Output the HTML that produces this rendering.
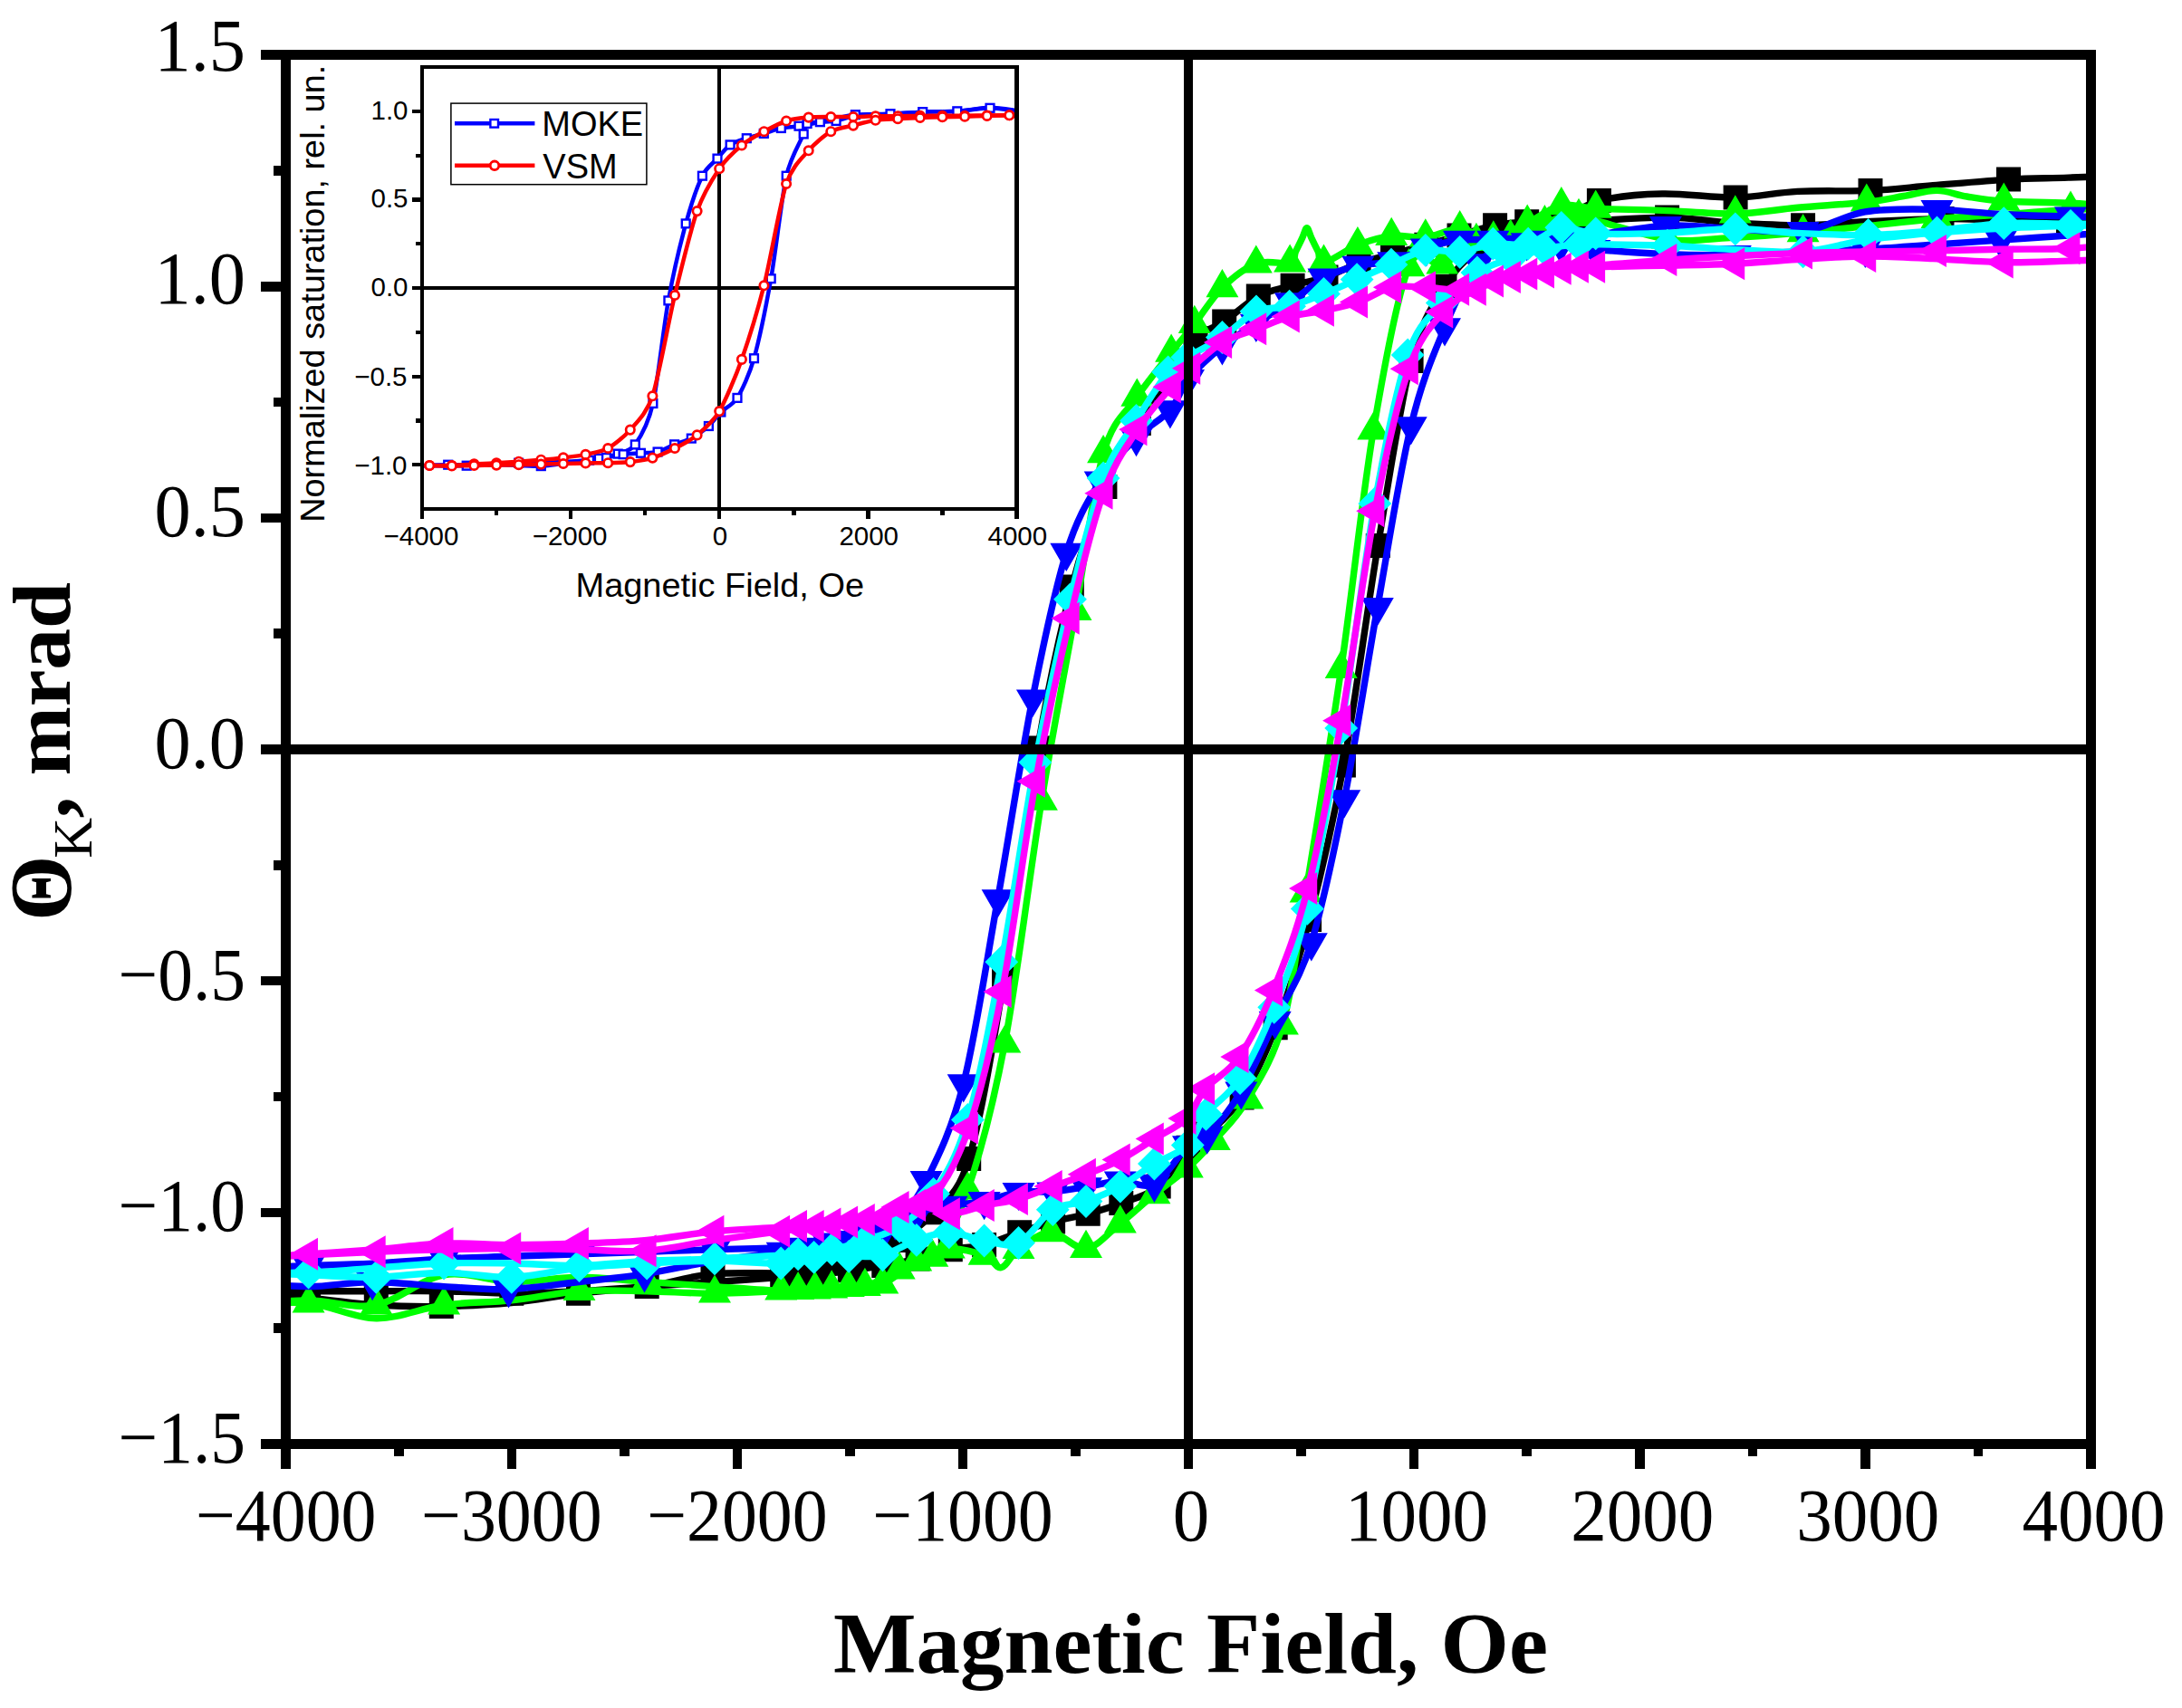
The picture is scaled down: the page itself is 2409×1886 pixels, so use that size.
<!DOCTYPE html>
<html lang="en"><head><meta charset="utf-8"><title>Kerr rotation hysteresis loops</title>
<style>html,body{margin:0;padding:0;background:#fff}svg{display:block}.ser{font-family:"Liberation Serif",serif}.san{font-family:"Liberation Sans",sans-serif}</style>
</head><body>
<svg width="2409" height="1886" viewBox="0 0 2409 1886" shape-rendering="crispEdges">
<rect x="0" y="0" width="2409" height="1886" fill="#fff"/>
<defs><clipPath id="cm"><rect x="315.7" y="60.6" width="1992.7" height="1533.8"/></clipPath>
</defs>
<g clip-path="url(#cm)" shape-rendering="geometricPrecision">
<g fill="#000000" stroke="#000000">
<path d="M2358.2,193.5C2345.8,194.0 2306.9,195.3 2283.5,196.1C2260.0,196.9 2242.4,196.7 2217.5,198.1C2192.6,199.6 2159.4,202.7 2134.0,204.8C2108.6,206.8 2090.0,209.3 2065.0,210.4C2040.1,211.5 2009.4,210.1 1984.6,211.4C1959.8,212.7 1941.0,217.6 1916.1,218.1C1891.2,218.5 1860.3,213.4 1835.1,214.0C1810.0,214.6 1784.1,217.0 1765.4,221.6C1746.7,226.3 1736.3,238.3 1723.0,242.1C1709.8,245.9 1697.8,243.5 1685.7,244.7C1673.6,245.8 1663.0,246.2 1650.6,248.7C1638.1,251.3 1623.6,256.4 1611.0,260.0C1598.3,263.6 1587.1,266.8 1574.8,270.2C1562.6,273.6 1549.9,277.0 1537.5,280.4C1525.0,283.9 1512.4,286.4 1500.1,290.7C1487.9,294.9 1476.2,301.9 1464.0,306.0C1451.8,310.1 1439.6,311.7 1427.1,315.2C1414.7,318.7 1401.8,320.3 1389.3,327.0C1376.7,333.6 1363.2,347.3 1351.7,355.1C1340.1,362.8 1329.6,362.9 1320.0,373.5C1310.4,384.1 1304.6,402.8 1294.1,418.5C1283.7,434.2 1269.6,447.7 1257.3,467.6C1244.9,487.4 1232.2,507.5 1219.9,537.6C1207.6,567.7 1195.6,600.0 1183.3,648.0C1170.9,696.1 1158.1,753.8 1145.7,826.0C1133.2,898.1 1121.2,1005.5 1108.5,1081.1C1095.9,1156.7 1082.7,1236.5 1069.7,1279.5C1056.7,1322.4 1043.3,1323.8 1030.6,1338.8C1017.8,1353.8 1005.7,1361.8 993.2,1369.4C980.8,1377.1 968.3,1380.5 955.9,1384.8C943.4,1389.0 930.9,1391.6 918.5,1395.0C906.0,1398.4 903.0,1403.3 881.1,1405.2C859.2,1407.2 814.8,1404.2 787.0,1406.8C759.2,1409.3 739.0,1417.0 714.2,1420.6C689.5,1424.1 663.4,1425.3 638.5,1428.2C613.6,1431.2 590.0,1436.1 564.8,1438.5C539.6,1440.8 512.2,1442.1 487.3,1442.6C462.4,1443.0 439.8,1442.6 415.3,1441.0C390.9,1439.5 365.5,1435.1 340.6,1433.4C315.7,1431.6 278.3,1431.2 265.9,1430.8" fill="none" stroke-width="7.4" stroke-linejoin="round"/>
<path d="M265.9,1425.7C278.3,1425.7 315.7,1425.7 340.6,1425.7C365.5,1425.7 390.4,1425.7 415.3,1425.7C440.2,1425.7 465.2,1425.3 490.1,1425.7C515.0,1426.1 539.9,1428.2 564.8,1428.2C589.7,1428.2 614.6,1427.0 639.5,1425.7C664.4,1424.4 689.3,1422.3 714.2,1420.6C739.1,1418.9 764.1,1417.2 789.0,1415.5C813.9,1413.8 845.0,1411.6 863.7,1410.3C882.4,1409.1 888.6,1409.1 901.1,1407.8C913.5,1406.5 926.0,1404.4 938.4,1402.7C950.9,1401.0 963.3,1399.7 975.8,1397.6C988.2,1395.4 1000.9,1392.9 1013.1,1389.9C1025.4,1386.9 1037.0,1382.2 1049.3,1379.7C1061.5,1377.1 1073.9,1377.7 1086.6,1374.6C1099.4,1371.4 1113.1,1365.0 1125.7,1360.8C1138.4,1356.5 1150.0,1352.4 1162.6,1349.0C1175.2,1345.6 1188.7,1343.7 1201.2,1340.3C1213.7,1336.9 1224.8,1333.6 1237.8,1328.5C1250.8,1323.5 1266.8,1320.4 1279.2,1310.1C1291.5,1299.9 1303.0,1276.9 1312.0,1267.2C1321.1,1257.5 1323.6,1261.1 1333.5,1251.9C1343.3,1242.6 1358.6,1231.5 1371.1,1212.0C1383.5,1192.5 1395.8,1167.5 1408.2,1134.8C1420.6,1102.1 1433.0,1064.0 1445.6,1015.6C1458.1,967.3 1470.8,913.7 1483.4,844.9C1496.0,776.0 1508.8,676.9 1521.3,602.5C1533.7,528.2 1545.9,446.3 1558.1,398.5C1570.4,350.8 1582.7,336.8 1595.0,316.2C1607.3,295.7 1619.7,284.7 1632.1,275.3C1644.5,266.0 1657.0,263.8 1669.5,260.0C1681.9,256.2 1694.4,254.7 1706.9,252.3C1719.3,249.9 1721.9,247.7 1744.2,245.7C1766.5,243.6 1813.0,240.1 1840.6,240.1C1868.2,240.1 1884.9,244.2 1909.9,245.7C1934.9,247.1 1965.7,248.9 1990.6,248.7C2015.5,248.6 2033.7,245.8 2059.3,244.7C2084.9,243.5 2119.1,241.8 2144.0,241.6C2168.9,241.3 2185.5,242.7 2208.8,243.1C2232.0,243.5 2258.6,243.9 2283.5,244.1C2308.4,244.4 2345.8,244.6 2358.2,244.7" fill="none" stroke-width="7.4" stroke-linejoin="round"/>
<path d="M2204.0,184.6h27.0v27.0h-27.0zM2051.5,196.9h27.0v27.0h-27.0zM1902.6,204.6h27.0v27.0h-27.0zM1751.9,208.1h27.0v27.0h-27.0zM1709.5,228.6h27.0v27.0h-27.0zM1672.2,231.2h27.0v27.0h-27.0zM1637.1,235.2h27.0v27.0h-27.0zM1597.5,246.5h27.0v27.0h-27.0zM1561.3,256.7h27.0v27.0h-27.0zM1524.0,266.9h27.0v27.0h-27.0zM1486.6,277.2h27.0v27.0h-27.0zM1450.5,292.5h27.0v27.0h-27.0zM1413.6,301.7h27.0v27.0h-27.0zM1375.8,313.5h27.0v27.0h-27.0zM1338.2,341.6h27.0v27.0h-27.0zM1306.5,360.0h27.0v27.0h-27.0zM1280.6,405.0h27.0v27.0h-27.0zM1243.8,454.1h27.0v27.0h-27.0zM1206.4,524.1h27.0v27.0h-27.0zM1169.8,634.5h27.0v27.0h-27.0zM1132.2,812.5h27.0v27.0h-27.0zM1095.0,1067.6h27.0v27.0h-27.0zM1056.2,1266.0h27.0v27.0h-27.0zM1017.1,1325.3h27.0v27.0h-27.0zM979.7,1355.9h27.0v27.0h-27.0zM942.4,1371.3h27.0v27.0h-27.0zM905.0,1381.5h27.0v27.0h-27.0zM867.6,1391.7h27.0v27.0h-27.0zM773.5,1393.3h27.0v27.0h-27.0zM625.0,1414.7h27.0v27.0h-27.0zM473.8,1429.1h27.0v27.0h-27.0zM327.1,1419.9h27.0v27.0h-27.0zM401.8,1412.2h27.0v27.0h-27.0zM551.3,1414.7h27.0v27.0h-27.0zM700.7,1407.1h27.0v27.0h-27.0zM850.2,1396.8h27.0v27.0h-27.0zM887.6,1394.3h27.0v27.0h-27.0zM924.9,1389.2h27.0v27.0h-27.0zM962.3,1384.1h27.0v27.0h-27.0zM999.6,1376.4h27.0v27.0h-27.0zM1035.8,1366.2h27.0v27.0h-27.0zM1073.1,1361.1h27.0v27.0h-27.0zM1112.2,1347.3h27.0v27.0h-27.0zM1149.1,1335.5h27.0v27.0h-27.0zM1187.7,1326.8h27.0v27.0h-27.0zM1224.3,1315.0h27.0v27.0h-27.0zM1265.7,1296.6h27.0v27.0h-27.0zM1298.5,1253.7h27.0v27.0h-27.0zM1320.0,1238.4h27.0v27.0h-27.0zM1357.6,1198.5h27.0v27.0h-27.0zM1394.7,1121.3h27.0v27.0h-27.0zM1432.1,1002.1h27.0v27.0h-27.0zM1469.9,831.4h27.0v27.0h-27.0zM1507.8,589.0h27.0v27.0h-27.0zM1544.6,385.0h27.0v27.0h-27.0zM1581.5,302.7h27.0v27.0h-27.0zM1618.6,261.8h27.0v27.0h-27.0zM1656.0,246.5h27.0v27.0h-27.0zM1693.4,238.8h27.0v27.0h-27.0zM1730.7,232.2h27.0v27.0h-27.0zM1827.1,226.6h27.0v27.0h-27.0zM1977.1,235.2h27.0v27.0h-27.0zM2130.5,228.1h27.0v27.0h-27.0zM2270.0,230.6h27.0v27.0h-27.0z" stroke="none"/>
</g>
<g fill="#00ff00" stroke="#00ff00">
<path d="M2358.2,229.3C2345.8,228.5 2307.8,225.4 2283.5,224.2C2259.2,223.0 2230.9,223.4 2212.3,222.2C2193.6,221.0 2183.7,219.0 2171.4,217.0C2159.1,215.1 2150.1,210.5 2138.5,210.4C2126.9,210.3 2114.6,214.4 2101.7,216.5C2088.7,218.7 2080.3,221.1 2060.8,223.2C2041.3,225.3 2008.7,227.2 1984.6,229.3C1960.4,231.4 1940.7,235.5 1915.8,236.0C1890.9,236.5 1860.8,233.3 1835.1,232.4C1809.4,231.4 1780.2,231.3 1761.7,230.3C1743.1,229.4 1736.4,224.1 1723.8,226.8C1711.2,229.4 1698.7,240.0 1686.2,246.2C1673.7,252.4 1661.2,263.0 1648.8,264.1C1636.4,265.2 1624.2,253.2 1611.7,252.8C1599.2,252.5 1586.4,260.8 1573.8,262.0C1561.3,263.3 1548.7,259.1 1536.2,260.5C1523.7,262.0 1511.3,265.8 1498.9,270.7C1486.4,275.7 1468.8,289.0 1461.5,290.2C1454.2,291.4 1457.6,282.5 1455.3,277.9C1453.0,273.3 1449.9,266.9 1447.8,262.6C1445.7,258.2 1444.5,251.8 1442.8,251.8C1441.2,251.8 1439.9,258.2 1437.8,262.6C1435.8,266.9 1432.6,273.3 1430.4,277.9C1428.1,282.5 1431.4,287.9 1424.1,290.2C1416.9,292.4 1399.2,286.6 1386.8,291.2C1374.3,295.8 1360.7,306.7 1349.4,317.8C1338.1,328.8 1328.2,345.7 1318.8,357.6C1309.4,369.6 1303.7,375.9 1293.1,389.3C1282.5,402.8 1267.8,419.9 1255.3,438.4C1242.8,457.0 1229.4,461.4 1218.1,500.8C1206.9,540.2 1198.9,610.7 1187.5,674.6C1176.1,738.5 1162.9,804.7 1149.9,884.3C1136.9,963.8 1122.9,1080.5 1109.3,1152.2C1095.7,1223.8 1081.8,1274.9 1068.4,1314.2C1055.1,1353.6 1042.0,1373.7 1029.3,1388.4C1016.7,1403.0 1005.1,1396.8 992.7,1402.2C980.3,1407.5 967.3,1417.1 954.9,1420.6C942.4,1424.1 930.5,1422.4 918.2,1423.1C906.0,1423.8 902.7,1423.8 881.1,1424.7C859.6,1425.5 816.8,1428.1 789.0,1428.2C761.2,1428.4 739.1,1426.1 714.2,1425.7C689.3,1425.3 664.4,1424.0 639.5,1425.7C614.6,1427.4 589.7,1433.4 564.8,1435.9C539.9,1438.5 515.0,1437.7 490.1,1441.0C465.2,1444.3 440.2,1456.2 415.3,1455.8C390.4,1455.5 365.5,1441.4 340.6,1439.0C315.7,1436.5 278.3,1440.7 265.9,1441.0" fill="none" stroke-width="7.4" stroke-linejoin="round"/>
<path d="M265.9,1441.0C278.3,1440.2 315.7,1435.9 340.6,1435.9C365.5,1435.9 390.4,1445.7 415.3,1441.0C440.2,1436.3 465.2,1412.0 490.1,1407.8C515.0,1403.5 539.9,1415.0 564.8,1415.5C589.7,1415.9 614.6,1410.3 639.5,1410.3C664.4,1410.3 689.3,1413.8 714.2,1415.5C739.1,1417.2 764.3,1419.0 789.0,1420.6C813.6,1422.2 843.7,1424.6 862.2,1425.2C880.7,1425.8 887.4,1424.7 899.8,1424.1C912.2,1423.6 924.3,1422.6 936.7,1421.6C949.1,1420.6 961.9,1422.8 974.3,1418.0C986.7,1413.2 998.9,1399.4 1011.2,1393.0C1023.4,1386.5 1035.2,1380.3 1047.8,1379.2C1060.3,1378.0 1077.0,1382.9 1086.6,1386.3C1096.2,1389.7 1099.0,1400.7 1105.3,1399.6C1111.6,1398.5 1115.4,1386.1 1124.5,1379.7C1133.6,1373.2 1147.7,1360.9 1160.1,1360.8C1172.5,1360.6 1186.2,1380.3 1199.0,1378.6C1211.8,1377.0 1224.2,1361.0 1236.8,1351.0C1249.4,1341.1 1262.1,1329.0 1274.4,1318.8C1286.8,1308.7 1299.8,1300.1 1310.8,1290.2C1321.8,1280.3 1329.6,1272.2 1340.7,1259.5C1351.8,1246.8 1364.8,1235.2 1377.3,1214.0C1389.8,1192.8 1405.2,1170.2 1415.9,1132.2C1426.6,1094.2 1430.8,1051.6 1441.6,986.0C1452.4,920.4 1468.2,823.7 1480.7,738.5C1493.1,653.4 1503.8,549.2 1516.3,475.2C1528.8,401.3 1542.7,325.3 1555.4,294.8C1568.1,264.3 1579.9,296.9 1592.3,292.2C1604.7,287.5 1617.3,271.6 1629.9,266.6C1642.5,261.7 1655.2,265.9 1667.7,262.6C1680.3,259.2 1692.8,250.5 1705.4,246.7C1717.9,242.9 1720.4,236.6 1743.0,239.5C1765.6,242.4 1813.0,260.2 1840.9,264.1C1868.7,267.9 1884.9,263.7 1909.9,262.6C1934.8,261.4 1965.7,259.1 1990.6,256.9C2015.5,254.8 2034.7,252.3 2059.3,249.8C2084.0,247.2 2113.6,243.7 2138.5,241.6C2163.4,239.5 2184.2,238.7 2208.8,237.0C2233.3,235.3 2261.1,232.6 2286.0,231.4C2310.9,230.1 2346.2,229.7 2358.2,229.3" fill="none" stroke-width="7.4" stroke-linejoin="round"/>
<path d="M2212.3,201.4L2230.3,232.6L2194.3,232.6zM2060.8,202.4L2078.8,233.6L2042.8,233.6zM1915.8,215.2L1933.8,246.4L1897.8,246.4zM1761.7,209.5L1779.7,240.7L1743.7,240.7zM1723.8,206.0L1741.8,237.2L1705.8,237.2zM1686.2,225.4L1704.2,256.6L1668.2,256.6zM1648.8,243.3L1666.8,274.5L1630.8,274.5zM1611.7,232.0L1629.7,263.2L1593.7,263.2zM1573.8,241.2L1591.8,272.4L1555.8,272.4zM1536.2,239.7L1554.2,270.9L1518.2,270.9zM1498.9,249.9L1516.9,281.1L1480.9,281.1zM1461.5,269.4L1479.5,300.6L1443.5,300.6zM1424.1,269.4L1442.1,300.6L1406.1,300.6zM1386.8,270.4L1404.8,301.6L1368.8,301.6zM1349.4,297.0L1367.4,328.2L1331.4,328.2zM1318.8,336.8L1336.8,368.0L1300.8,368.0zM1293.1,368.5L1311.1,399.7L1275.1,399.7zM1255.3,417.6L1273.3,448.8L1237.3,448.8zM1218.1,480.0L1236.1,511.2L1200.1,511.2zM1187.5,653.8L1205.5,685.0L1169.5,685.0zM1149.9,863.5L1167.9,894.7L1131.9,894.7zM1109.3,1131.4L1127.3,1162.6L1091.3,1162.6zM1068.4,1293.4L1086.4,1324.6L1050.4,1324.6zM1029.3,1367.6L1047.3,1398.8L1011.3,1398.8zM992.7,1381.4L1010.7,1412.6L974.7,1412.6zM954.9,1399.8L972.9,1431.0L936.9,1431.0zM918.2,1402.3L936.2,1433.5L900.2,1433.5zM881.1,1403.9L899.1,1435.1L863.1,1435.1zM789.0,1407.4L807.0,1438.6L771.0,1438.6zM639.5,1404.9L657.5,1436.1L621.5,1436.1zM490.1,1420.2L508.1,1451.4L472.1,1451.4zM340.6,1418.2L358.6,1449.4L322.6,1449.4zM415.3,1420.2L433.3,1451.4L397.3,1451.4zM564.8,1394.7L582.8,1425.9L546.8,1425.9zM714.2,1394.7L732.2,1425.9L696.2,1425.9zM862.2,1404.4L880.2,1435.6L844.2,1435.6zM899.8,1403.3L917.8,1434.5L881.8,1434.5zM936.7,1400.8L954.7,1432.0L918.7,1432.0zM974.3,1397.2L992.3,1428.4L956.3,1428.4zM1011.2,1372.2L1029.2,1403.4L993.2,1403.4zM1047.8,1358.4L1065.8,1389.6L1029.8,1389.6zM1086.6,1365.5L1104.6,1396.7L1068.6,1396.7zM1124.5,1358.9L1142.5,1390.1L1106.5,1390.1zM1160.1,1340.0L1178.1,1371.2L1142.1,1371.2zM1199.0,1357.8L1217.0,1389.0L1181.0,1389.0zM1236.8,1330.2L1254.8,1361.4L1218.8,1361.4zM1274.4,1298.0L1292.4,1329.2L1256.4,1329.2zM1310.8,1269.4L1328.8,1300.6L1292.8,1300.6zM1340.7,1238.7L1358.7,1269.9L1322.7,1269.9zM1377.3,1193.2L1395.3,1224.4L1359.3,1224.4zM1415.9,1111.4L1433.9,1142.6L1397.9,1142.6zM1441.6,965.2L1459.6,996.4L1423.6,996.4zM1480.7,717.7L1498.7,748.9L1462.7,748.9zM1516.3,454.4L1534.3,485.6L1498.3,485.6zM1555.4,274.0L1573.4,305.2L1537.4,305.2zM1592.3,271.4L1610.3,302.6L1574.3,302.6zM1629.9,245.8L1647.9,277.0L1611.9,277.0zM1667.7,241.8L1685.7,273.0L1649.7,273.0zM1705.4,225.9L1723.4,257.1L1687.4,257.1zM1743.0,218.7L1761.0,249.9L1725.0,249.9zM1840.9,243.3L1858.9,274.5L1822.9,274.5zM1990.6,236.1L2008.6,267.3L1972.6,267.3zM2138.5,220.8L2156.5,252.0L2120.5,252.0zM2286.0,210.6L2304.0,241.8L2268.0,241.8z" stroke="none"/>
</g>
<g fill="#0000ff" stroke="#0000ff">
<path d="M2358.2,254.9C2345.8,255.7 2308.4,258.3 2283.5,260.0C2258.6,261.7 2233.7,263.4 2208.8,265.1C2183.9,266.8 2158.9,268.5 2134.0,270.2C2109.1,271.9 2084.2,274.1 2059.3,275.3C2034.4,276.6 2008.5,276.9 1984.6,277.9C1960.7,278.9 1940.7,281.0 1915.8,281.5C1890.9,281.9 1861.0,281.5 1835.1,280.4C1809.2,279.4 1779.1,277.0 1760.4,275.3C1741.7,273.6 1735.5,271.5 1723.0,270.2C1710.6,268.9 1698.1,268.5 1685.7,267.7C1673.2,266.8 1660.8,265.5 1648.3,265.1C1635.9,264.7 1623.2,263.7 1611.0,265.1C1598.7,266.6 1587.0,269.9 1574.8,273.8C1562.7,277.7 1550.8,285.4 1538.2,288.6C1525.6,291.9 1512.2,290.2 1499.4,293.2C1486.6,296.3 1473.9,300.3 1461.5,307.0C1449.1,313.8 1437.3,325.3 1424.9,333.6C1412.4,342.0 1399.4,349.0 1386.8,357.1C1374.2,365.3 1361.9,372.5 1349.4,382.7C1337.0,392.9 1321.6,406.8 1312.0,418.5C1302.5,430.2 1301.5,441.9 1291.9,452.7C1282.3,463.6 1267.4,470.4 1254.5,483.4C1241.6,496.5 1227.5,509.8 1214.7,531.0C1201.8,552.1 1189.7,570.1 1177.3,610.2C1164.8,650.3 1152.6,708.0 1139.9,771.8C1127.3,835.5 1114.3,921.8 1101.6,992.6C1088.9,1063.4 1076.9,1144.8 1063.7,1196.6C1050.5,1248.4 1035.2,1278.1 1022.6,1303.5C1010.0,1328.9 1000.2,1338.9 988.2,1349.0C976.3,1359.1 963.3,1360.5 950.9,1364.3C938.4,1368.2 926.0,1369.9 913.5,1372.0C901.1,1374.1 896.9,1375.8 876.1,1377.1C855.4,1378.4 816.0,1378.8 789.0,1379.7C762.0,1380.5 739.1,1381.4 714.2,1382.2C689.3,1383.1 664.4,1383.9 639.5,1384.8C614.6,1385.6 589.7,1386.5 564.8,1387.3C539.9,1388.2 515.0,1388.6 490.1,1389.9C465.2,1391.2 440.2,1393.7 415.3,1395.0C390.4,1396.3 365.5,1396.7 340.6,1397.6C315.7,1398.4 278.3,1399.7 265.9,1400.1" fill="none" stroke-width="7.4" stroke-linejoin="round"/>
<path d="M265.9,1415.5C278.3,1416.3 316.4,1420.6 340.6,1420.6C364.8,1420.6 386.2,1415.5 411.1,1415.5C436.0,1415.5 465.0,1419.2 490.1,1420.6C515.1,1421.9 536.6,1424.5 561.5,1423.6C586.5,1422.8 614.5,1418.3 639.5,1415.5C664.5,1412.6 686.6,1410.6 711.5,1406.8C736.4,1402.9 763.6,1396.5 789.0,1392.4C814.3,1388.4 845.0,1384.8 863.7,1382.2C882.4,1379.7 888.6,1379.2 901.1,1377.1C913.5,1375.0 926.0,1372.4 938.4,1369.4C950.9,1366.5 963.3,1364.3 975.8,1359.2C988.2,1354.1 1000.7,1343.5 1013.1,1338.8C1025.6,1334.1 1038.3,1333.1 1050.5,1331.1C1062.8,1329.1 1074.3,1329.0 1086.6,1326.5C1099.0,1324.0 1111.9,1318.1 1124.5,1316.3C1137.1,1314.5 1149.9,1316.7 1162.3,1315.8C1174.8,1314.8 1186.6,1312.6 1199.0,1310.6C1211.4,1308.7 1224.2,1304.6 1236.8,1304.0C1249.4,1303.4 1261.9,1313.6 1274.4,1307.1C1287.0,1300.5 1302.3,1273.5 1312.0,1264.6C1321.8,1255.8 1323.0,1263.9 1332.7,1253.9C1342.4,1243.9 1357.8,1225.9 1370.3,1204.8C1382.8,1183.7 1394.8,1154.5 1407.7,1127.1C1420.6,1099.7 1435.1,1081.4 1447.8,1040.7C1460.5,1000.0 1472.0,944.4 1484.2,882.7C1496.3,821.0 1508.5,739.2 1520.8,670.5C1533.0,601.9 1545.3,522.1 1557.7,470.6C1570.0,419.2 1582.6,391.7 1595.0,361.7C1607.4,331.7 1619.7,305.9 1632.1,290.7C1644.5,275.4 1657.0,274.5 1669.5,270.2C1681.9,266.0 1694.4,266.5 1706.9,265.1C1719.3,263.7 1722.2,264.7 1744.2,262.0C1766.2,259.4 1811.3,250.9 1838.9,249.3C1866.5,247.6 1884.6,251.3 1909.9,252.3C1935.1,253.3 1965.7,258.5 1990.6,255.4C2015.5,252.3 2034.7,237.9 2059.3,233.9C2084.0,229.9 2113.6,230.9 2138.5,231.4C2163.4,231.8 2184.2,235.2 2208.8,236.5C2233.3,237.8 2261.1,238.5 2286.0,239.0C2310.9,239.5 2346.2,239.5 2358.2,239.5" fill="none" stroke-width="7.4" stroke-linejoin="round"/>
<path d="M2208.8,285.9L2226.8,254.7L2190.8,254.7zM2059.3,296.1L2077.3,264.9L2041.3,264.9zM1915.8,302.3L1933.8,271.1L1897.8,271.1zM1760.4,296.1L1778.4,264.9L1742.4,264.9zM1723.0,291.0L1741.0,259.8L1705.0,259.8zM1685.7,288.5L1703.7,257.3L1667.7,257.3zM1648.3,285.9L1666.3,254.7L1630.3,254.7zM1611.0,285.9L1629.0,254.7L1593.0,254.7zM1574.8,294.6L1592.8,263.4L1556.8,263.4zM1538.2,309.4L1556.2,278.2L1520.2,278.2zM1499.4,314.0L1517.4,282.8L1481.4,282.8zM1461.5,327.8L1479.5,296.6L1443.5,296.6zM1424.9,354.4L1442.9,323.2L1406.9,323.2zM1386.8,377.9L1404.8,346.7L1368.8,346.7zM1349.4,403.5L1367.4,372.3L1331.4,372.3zM1312.0,439.3L1330.0,408.1L1294.0,408.1zM1291.9,473.5L1309.9,442.3L1273.9,442.3zM1254.5,504.2L1272.5,473.0L1236.5,473.0zM1214.7,551.8L1232.7,520.6L1196.7,520.6zM1177.3,631.0L1195.3,599.8L1159.3,599.8zM1139.9,792.6L1157.9,761.4L1121.9,761.4zM1101.6,1013.4L1119.6,982.2L1083.6,982.2zM1063.7,1217.4L1081.7,1186.2L1045.7,1186.2zM1022.6,1324.3L1040.6,1293.1L1004.6,1293.1zM988.2,1369.8L1006.2,1338.6L970.2,1338.6zM950.9,1385.1L968.9,1353.9L932.9,1353.9zM913.5,1392.8L931.5,1361.6L895.5,1361.6zM876.1,1397.9L894.1,1366.7L858.1,1366.7zM789.0,1400.5L807.0,1369.3L771.0,1369.3zM639.5,1405.6L657.5,1374.4L621.5,1374.4zM490.1,1410.7L508.1,1379.5L472.1,1379.5zM340.6,1418.4L358.6,1387.2L322.6,1387.2zM411.1,1436.3L429.1,1405.1L393.1,1405.1zM561.5,1444.4L579.5,1413.2L543.5,1413.2zM711.5,1427.6L729.5,1396.4L693.5,1396.4zM863.7,1403.0L881.7,1371.8L845.7,1371.8zM901.1,1397.9L919.1,1366.7L883.1,1366.7zM938.4,1390.2L956.4,1359.0L920.4,1359.0zM975.8,1380.0L993.8,1348.8L957.8,1348.8zM1013.1,1359.6L1031.1,1328.4L995.1,1328.4zM1050.5,1351.9L1068.5,1320.7L1032.5,1320.7zM1086.6,1347.3L1104.6,1316.1L1068.6,1316.1zM1124.5,1337.1L1142.5,1305.9L1106.5,1305.9zM1162.3,1336.6L1180.3,1305.4L1144.3,1305.4zM1199.0,1331.4L1217.0,1300.2L1181.0,1300.2zM1236.8,1324.8L1254.8,1293.6L1218.8,1293.6zM1274.4,1327.9L1292.4,1296.7L1256.4,1296.7zM1312.0,1285.4L1330.0,1254.2L1294.0,1254.2zM1332.7,1274.7L1350.7,1243.5L1314.7,1243.5zM1370.3,1225.6L1388.3,1194.4L1352.3,1194.4zM1407.7,1147.9L1425.7,1116.7L1389.7,1116.7zM1447.8,1061.5L1465.8,1030.3L1429.8,1030.3zM1484.2,903.5L1502.2,872.3L1466.2,872.3zM1520.8,691.3L1538.8,660.1L1502.8,660.1zM1557.7,491.4L1575.7,460.2L1539.7,460.2zM1595.0,382.5L1613.0,351.3L1577.0,351.3zM1632.1,311.5L1650.1,280.3L1614.1,280.3zM1669.5,291.0L1687.5,259.8L1651.5,259.8zM1706.9,285.9L1724.9,254.7L1688.9,254.7zM1744.2,282.8L1762.2,251.6L1726.2,251.6zM1838.9,270.1L1856.9,238.9L1820.9,238.9zM1990.6,276.2L2008.6,245.0L1972.6,245.0zM2138.5,252.2L2156.5,221.0L2120.5,221.0zM2286.0,259.8L2304.0,228.6L2268.0,228.6z" stroke="none"/>
</g>
<g fill="#00ffff" stroke="#00ffff">
<path d="M2358.2,247.2C2345.8,247.2 2307.8,247.3 2283.5,247.2C2259.2,247.1 2237.2,245.4 2212.3,246.7C2187.3,248.0 2159.0,252.8 2134.0,254.9C2109.1,257.0 2087.5,259.1 2062.6,259.5C2037.6,259.9 2009.0,258.5 1984.6,257.4C1960.1,256.3 1940.7,252.8 1915.8,252.8C1890.9,252.8 1860.8,256.6 1835.1,257.4C1809.4,258.3 1780.2,259.0 1761.7,257.9C1743.1,256.9 1736.2,249.4 1723.8,251.3C1711.4,253.2 1699.8,266.2 1687.2,269.2C1674.6,272.2 1660.9,267.7 1648.3,269.2C1635.7,270.7 1624.1,277.2 1611.7,278.4C1599.3,279.6 1586.5,274.1 1573.8,276.4C1561.2,278.7 1548.6,286.8 1536.0,292.2C1523.4,297.6 1510.5,303.2 1498.1,308.6C1485.7,313.9 1473.9,319.5 1461.5,324.4C1449.1,329.4 1436.1,335.0 1423.6,338.2C1411.2,341.5 1399.4,338.1 1387.0,343.8C1374.7,349.6 1362.1,364.0 1349.4,372.5C1336.7,380.9 1320.8,388.1 1310.8,394.5C1300.8,400.8 1299.0,399.1 1289.6,410.8C1280.2,422.5 1266.4,445.0 1254.5,464.5C1242.6,484.0 1230.3,495.0 1218.1,527.9C1206.0,560.8 1194.1,609.5 1181.5,661.8C1169.0,714.2 1155.5,775.1 1142.9,841.8C1130.3,908.5 1118.2,996.4 1105.8,1062.2C1093.4,1128.0 1081.0,1193.8 1068.4,1236.5C1055.9,1279.2 1043.1,1298.7 1030.6,1318.3C1018.0,1337.9 1005.7,1345.6 993.2,1354.1C980.8,1362.6 968.3,1365.2 955.9,1369.4C943.4,1373.7 930.9,1377.1 918.5,1379.7C906.0,1382.2 902.7,1383.1 881.1,1384.8C859.5,1386.5 816.8,1388.6 789.0,1389.9C761.2,1391.2 739.1,1391.2 714.2,1392.4C689.3,1393.7 664.4,1397.1 639.5,1397.6C614.6,1398.0 589.7,1395.4 564.8,1395.0C539.9,1394.6 515.0,1394.2 490.1,1395.0C465.2,1395.9 440.2,1398.4 415.3,1400.1C390.4,1401.8 365.5,1404.4 340.6,1405.2C315.7,1406.1 278.3,1405.2 265.9,1405.2" fill="none" stroke-width="7.4" stroke-linejoin="round"/>
<path d="M265.9,1405.2C278.3,1405.7 315.7,1406.9 340.6,1407.8C365.5,1408.6 390.4,1410.8 415.3,1410.3C440.2,1409.9 465.2,1405.2 490.1,1405.2C515.0,1405.2 539.9,1411.2 564.8,1410.3C589.7,1409.5 614.6,1402.7 639.5,1400.1C664.4,1397.6 689.3,1396.3 714.2,1395.0C739.1,1393.7 764.3,1392.4 789.0,1392.4C813.6,1392.4 843.9,1395.7 862.2,1395.0C880.5,1394.3 886.1,1389.6 898.6,1388.4C911.1,1387.1 924.5,1387.8 937.2,1387.3C949.8,1386.9 962.1,1388.8 974.5,1385.8C987.0,1382.8 999.7,1373.6 1011.9,1369.4C1024.1,1365.3 1035.3,1360.7 1047.8,1360.8C1060.2,1360.8 1073.8,1368.0 1086.6,1370.0C1099.4,1371.9 1111.9,1378.2 1124.5,1372.5C1137.1,1366.8 1149.9,1343.4 1162.3,1335.7C1174.8,1328.0 1186.6,1330.8 1199.0,1326.5C1211.4,1322.2 1224.2,1317.0 1236.8,1310.1C1249.4,1303.2 1262.0,1292.7 1274.4,1285.1C1286.9,1277.5 1301.8,1273.8 1311.3,1264.6C1320.8,1255.5 1321.8,1242.7 1331.5,1230.4C1341.1,1218.0 1356.6,1210.2 1369.1,1190.5C1381.6,1170.8 1394.3,1143.5 1406.7,1112.3C1419.1,1081.1 1431.0,1054.8 1443.3,1003.4C1455.6,952.0 1468.3,878.5 1480.7,804.0C1493.1,729.4 1505.5,624.7 1517.8,556.0C1530.0,487.3 1541.8,428.8 1554.2,391.9C1566.6,355.0 1579.5,349.8 1592.3,334.6C1605.1,319.5 1618.2,309.1 1630.9,300.9C1643.5,292.7 1655.8,289.8 1668.2,285.6C1680.7,281.3 1693.2,277.9 1705.6,275.3C1718.1,272.8 1720.4,270.9 1743.0,270.2C1765.5,269.5 1813.0,270.4 1840.9,271.2C1868.7,272.1 1884.9,274.2 1909.9,275.3C1934.8,276.4 1965.7,279.6 1990.6,277.9C2015.5,276.2 2034.7,268.6 2059.3,265.1C2084.0,261.6 2113.6,259.1 2138.5,256.9C2163.4,254.8 2184.2,253.6 2208.8,252.3C2233.3,251.0 2261.1,249.7 2286.0,249.3C2310.9,248.8 2346.2,249.7 2358.2,249.8" fill="none" stroke-width="7.4" stroke-linejoin="round"/>
<path d="M2212.3,228.3L2230.7,246.7L2212.3,265.1L2193.9,246.7zM2062.6,241.1L2081.0,259.5L2062.6,277.9L2044.2,259.5zM1915.8,234.4L1934.2,252.8L1915.8,271.2L1897.4,252.8zM1761.7,239.5L1780.1,257.9L1761.7,276.3L1743.3,257.9zM1723.8,232.9L1742.2,251.3L1723.8,269.7L1705.4,251.3zM1687.2,250.8L1705.6,269.2L1687.2,287.6L1668.8,269.2zM1648.3,250.8L1666.7,269.2L1648.3,287.6L1629.9,269.2zM1611.7,260.0L1630.1,278.4L1611.7,296.8L1593.3,278.4zM1573.8,258.0L1592.2,276.4L1573.8,294.8L1555.4,276.4zM1536.0,273.8L1554.4,292.2L1536.0,310.6L1517.6,292.2zM1498.1,290.2L1516.5,308.6L1498.1,327.0L1479.7,308.6zM1461.5,306.0L1479.9,324.4L1461.5,342.8L1443.1,324.4zM1423.6,319.8L1442.0,338.2L1423.6,356.6L1405.2,338.2zM1387.0,325.4L1405.4,343.8L1387.0,362.2L1368.6,343.8zM1349.4,354.1L1367.8,372.5L1349.4,390.9L1331.0,372.5zM1310.8,376.1L1329.2,394.5L1310.8,412.9L1292.4,394.5zM1289.6,392.4L1308.0,410.8L1289.6,429.2L1271.2,410.8zM1254.5,446.1L1272.9,464.5L1254.5,482.9L1236.1,464.5zM1218.1,509.5L1236.5,527.9L1218.1,546.3L1199.7,527.9zM1181.5,643.4L1199.9,661.8L1181.5,680.2L1163.1,661.8zM1142.9,823.4L1161.3,841.8L1142.9,860.2L1124.5,841.8zM1105.8,1043.8L1124.2,1062.2L1105.8,1080.6L1087.4,1062.2zM1068.4,1218.1L1086.8,1236.5L1068.4,1254.9L1050.0,1236.5zM1030.6,1299.9L1049.0,1318.3L1030.6,1336.7L1012.2,1318.3zM993.2,1335.7L1011.6,1354.1L993.2,1372.5L974.8,1354.1zM955.9,1351.0L974.3,1369.4L955.9,1387.8L937.5,1369.4zM918.5,1361.3L936.9,1379.7L918.5,1398.1L900.1,1379.7zM881.1,1366.4L899.5,1384.8L881.1,1403.2L862.7,1384.8zM789.0,1371.5L807.4,1389.9L789.0,1408.3L770.6,1389.9zM639.5,1379.2L657.9,1397.6L639.5,1416.0L621.1,1397.6zM490.1,1376.6L508.5,1395.0L490.1,1413.4L471.7,1395.0zM340.6,1386.8L359.0,1405.2L340.6,1423.6L322.2,1405.2zM415.3,1391.9L433.7,1410.3L415.3,1428.7L396.9,1410.3zM564.8,1391.9L583.2,1410.3L564.8,1428.7L546.4,1410.3zM714.2,1376.6L732.6,1395.0L714.2,1413.4L695.8,1395.0zM862.2,1376.6L880.6,1395.0L862.2,1413.4L843.8,1395.0zM898.6,1370.0L917.0,1388.4L898.6,1406.8L880.2,1388.4zM937.2,1368.9L955.6,1387.3L937.2,1405.7L918.8,1387.3zM974.5,1367.4L992.9,1385.8L974.5,1404.2L956.1,1385.8zM1011.9,1351.0L1030.3,1369.4L1011.9,1387.8L993.5,1369.4zM1047.8,1342.4L1066.2,1360.8L1047.8,1379.2L1029.4,1360.8zM1086.6,1351.6L1105.0,1370.0L1086.6,1388.4L1068.2,1370.0zM1124.5,1354.1L1142.9,1372.5L1124.5,1390.9L1106.1,1372.5zM1162.3,1317.3L1180.7,1335.7L1162.3,1354.1L1143.9,1335.7zM1199.0,1308.1L1217.4,1326.5L1199.0,1344.9L1180.6,1326.5zM1236.8,1291.7L1255.2,1310.1L1236.8,1328.5L1218.4,1310.1zM1274.4,1266.7L1292.8,1285.1L1274.4,1303.5L1256.0,1285.1zM1311.3,1246.2L1329.7,1264.6L1311.3,1283.0L1292.9,1264.6zM1331.5,1212.0L1349.9,1230.4L1331.5,1248.8L1313.1,1230.4zM1369.1,1172.1L1387.5,1190.5L1369.1,1208.9L1350.7,1190.5zM1406.7,1093.9L1425.1,1112.3L1406.7,1130.7L1388.3,1112.3zM1443.3,985.0L1461.7,1003.4L1443.3,1021.8L1424.9,1003.4zM1480.7,785.6L1499.1,804.0L1480.7,822.4L1462.3,804.0zM1517.8,537.6L1536.2,556.0L1517.8,574.4L1499.4,556.0zM1554.2,373.5L1572.6,391.9L1554.2,410.3L1535.8,391.9zM1592.3,316.2L1610.7,334.6L1592.3,353.0L1573.9,334.6zM1630.9,282.5L1649.3,300.9L1630.9,319.3L1612.5,300.9zM1668.2,267.2L1686.6,285.6L1668.2,304.0L1649.8,285.6zM1705.6,256.9L1724.0,275.3L1705.6,293.7L1687.2,275.3zM1743.0,251.8L1761.4,270.2L1743.0,288.6L1724.6,270.2zM1840.9,252.8L1859.3,271.2L1840.9,289.6L1822.5,271.2zM1990.6,259.5L2009.0,277.9L1990.6,296.3L1972.2,277.9zM2138.5,238.5L2156.9,256.9L2138.5,275.3L2120.1,256.9zM2286.0,230.9L2304.4,249.3L2286.0,267.7L2267.6,249.3z" stroke="none"/>
</g>
<g fill="#ff00ff" stroke="#ff00ff">
<path d="M2358.2,285.6C2345.8,286.0 2307.8,287.4 2283.5,288.1C2259.2,288.8 2237.2,290.1 2212.3,289.6C2187.3,289.2 2159.3,286.7 2134.0,285.6C2108.8,284.4 2085.7,282.8 2060.8,283.0C2035.9,283.2 2008.7,285.2 1984.6,286.6C1960.4,287.9 1940.7,290.1 1915.8,291.2C1890.9,292.3 1860.8,292.6 1835.1,293.2C1809.4,293.8 1780.1,294.2 1761.7,294.8C1743.2,295.4 1736.7,295.5 1724.3,296.8C1711.8,298.1 1699.4,300.1 1686.9,302.4C1674.5,304.7 1662.1,307.7 1649.6,310.6C1637.0,313.5 1624.2,318.7 1611.7,319.8C1599.2,320.9 1587.1,317.7 1574.6,317.3C1562.1,316.8 1549.2,314.5 1536.7,317.3C1524.2,320.0 1512.0,329.4 1499.6,333.6C1487.2,337.9 1475.0,340.2 1462.5,342.8C1450.0,345.5 1436.8,346.1 1424.4,349.5C1411.9,352.9 1400.2,358.5 1387.8,363.3C1375.3,368.0 1361.8,370.9 1349.7,378.1C1337.5,385.3 1324.2,398.5 1314.8,406.7C1305.4,414.9 1303.2,415.9 1293.4,427.2C1283.6,438.4 1268.5,454.6 1256.0,474.2C1243.5,493.8 1230.6,510.0 1218.1,544.8C1205.7,579.5 1193.7,629.8 1181.3,682.8C1168.8,735.8 1155.9,794.1 1143.4,862.8C1130.9,931.5 1118.6,1031.1 1106.3,1094.9C1094.0,1158.7 1082.1,1208.1 1069.4,1245.7C1056.8,1283.4 1043.3,1306.3 1030.6,1320.9C1017.9,1335.4 1005.8,1328.8 993.2,1333.1C980.7,1337.5 967.9,1343.9 955.4,1346.9C942.8,1350.0 930.4,1350.4 918.0,1351.5C905.5,1352.7 902.1,1352.7 880.6,1354.1C859.1,1355.5 816.7,1357.2 789.0,1359.7C761.2,1362.3 739.1,1367.2 714.2,1369.4C689.3,1371.7 664.4,1372.2 639.5,1373.0C614.6,1373.9 589.7,1374.6 564.8,1374.6C539.9,1374.6 515.0,1372.2 490.1,1373.0C465.2,1373.9 440.2,1377.7 415.3,1379.7C390.4,1381.6 365.5,1383.1 340.6,1384.8C315.7,1386.5 278.3,1389.0 265.9,1389.9" fill="none" stroke-width="7.4" stroke-linejoin="round"/>
<path d="M265.9,1389.9C278.3,1389.2 315.7,1387.1 340.6,1385.8C365.5,1384.5 390.4,1383.2 415.3,1382.2C440.2,1381.2 465.2,1380.3 490.1,1379.7C515.0,1379.1 539.9,1378.6 564.8,1378.6C589.7,1378.6 614.6,1379.2 639.5,1379.7C664.4,1380.1 689.3,1382.9 714.2,1381.2C739.1,1379.5 764.4,1373.0 789.0,1369.4C813.5,1365.9 843.3,1362.3 861.7,1359.7C880.1,1357.2 886.8,1355.8 899.3,1354.1C911.8,1352.4 924.2,1351.0 936.7,1349.5C949.2,1348.0 961.8,1348.0 974.3,1344.9C986.8,1341.8 999.1,1331.9 1011.7,1331.1C1024.2,1330.3 1036.9,1340.3 1049.5,1340.3C1062.1,1340.3 1074.9,1333.8 1087.4,1331.1C1099.9,1328.4 1112.0,1327.4 1124.5,1323.9C1137.0,1320.4 1149.9,1314.7 1162.3,1310.1C1174.8,1305.6 1187.0,1301.8 1199.5,1296.8C1212.0,1291.9 1224.8,1287.0 1237.3,1280.5C1249.8,1273.9 1262.3,1265.1 1274.4,1257.5C1286.6,1249.9 1300.7,1244.2 1310.1,1235.0C1319.4,1225.8 1321.1,1213.6 1330.7,1202.3C1340.4,1190.9 1355.6,1185.1 1368.1,1167.0C1380.6,1148.8 1393.1,1124.4 1405.7,1093.4C1418.3,1062.3 1431.3,1030.5 1443.8,980.9C1456.4,931.3 1468.6,865.2 1480.9,795.8C1493.3,726.4 1505.6,629.0 1518.0,564.2C1530.5,499.4 1542.8,443.9 1555.4,407.2C1568.0,370.6 1581.3,358.9 1593.8,344.4C1606.3,329.8 1617.9,326.2 1630.4,319.8C1642.8,313.4 1656.0,309.2 1668.5,306.0C1681.0,302.8 1693.1,302.3 1705.6,300.4C1718.1,298.5 1720.9,297.0 1743.5,294.8C1766.0,292.5 1813.1,289.1 1840.9,287.1C1868.6,285.1 1884.9,284.3 1909.9,283.0C1934.8,281.7 1965.7,280.3 1990.6,279.4C2015.5,278.6 2034.7,278.3 2059.3,277.9C2084.0,277.5 2113.6,277.3 2138.5,276.9C2163.4,276.4 2184.2,275.8 2208.8,275.3C2233.3,274.9 2261.1,275.6 2286.0,274.3C2310.9,273.0 2346.2,268.8 2358.2,267.7" fill="none" stroke-width="7.4" stroke-linejoin="round"/>
<path d="M2191.5,289.6L2222.7,271.6L2222.7,307.6zM2040.0,283.0L2071.2,265.0L2071.2,301.0zM1895.0,291.2L1926.2,273.2L1926.2,309.2zM1740.9,294.8L1772.1,276.8L1772.1,312.8zM1703.5,296.8L1734.7,278.8L1734.7,314.8zM1666.1,302.4L1697.3,284.4L1697.3,320.4zM1628.8,310.6L1660.0,292.6L1660.0,328.6zM1590.9,319.8L1622.1,301.8L1622.1,337.8zM1553.8,317.3L1585.0,299.3L1585.0,335.3zM1515.9,317.3L1547.1,299.3L1547.1,335.3zM1478.8,333.6L1510.0,315.6L1510.0,351.6zM1441.7,342.8L1472.9,324.8L1472.9,360.8zM1403.6,349.5L1434.8,331.5L1434.8,367.5zM1367.0,363.3L1398.2,345.3L1398.2,381.3zM1328.9,378.1L1360.1,360.1L1360.1,396.1zM1294.0,406.7L1325.2,388.7L1325.2,424.7zM1272.6,427.2L1303.8,409.2L1303.8,445.2zM1235.2,474.2L1266.4,456.2L1266.4,492.2zM1197.3,544.8L1228.5,526.8L1228.5,562.8zM1160.5,682.8L1191.7,664.8L1191.7,700.8zM1122.6,862.8L1153.8,844.8L1153.8,880.8zM1085.5,1094.9L1116.7,1076.9L1116.7,1112.9zM1048.6,1245.7L1079.8,1227.7L1079.8,1263.7zM1009.8,1320.9L1041.0,1302.9L1041.0,1338.9zM972.4,1333.1L1003.6,1315.1L1003.6,1351.1zM934.6,1346.9L965.8,1328.9L965.8,1364.9zM897.2,1351.5L928.4,1333.5L928.4,1369.5zM859.8,1354.1L891.0,1336.1L891.0,1372.1zM768.2,1359.7L799.4,1341.7L799.4,1377.7zM618.7,1373.0L649.9,1355.0L649.9,1391.0zM469.3,1373.0L500.5,1355.0L500.5,1391.0zM319.8,1384.8L351.0,1366.8L351.0,1402.8zM394.5,1382.2L425.7,1364.2L425.7,1400.2zM544.0,1378.6L575.2,1360.6L575.2,1396.6zM693.4,1381.2L724.6,1363.2L724.6,1399.2zM840.9,1359.7L872.1,1341.7L872.1,1377.7zM878.5,1354.1L909.7,1336.1L909.7,1372.1zM915.9,1349.5L947.1,1331.5L947.1,1367.5zM953.5,1344.9L984.7,1326.9L984.7,1362.9zM990.9,1331.1L1022.1,1313.1L1022.1,1349.1zM1028.7,1340.3L1059.9,1322.3L1059.9,1358.3zM1066.6,1331.1L1097.8,1313.1L1097.8,1349.1zM1103.7,1323.9L1134.9,1305.9L1134.9,1341.9zM1141.5,1310.1L1172.7,1292.1L1172.7,1328.1zM1178.7,1296.8L1209.9,1278.8L1209.9,1314.8zM1216.5,1280.5L1247.7,1262.5L1247.7,1298.5zM1253.6,1257.5L1284.8,1239.5L1284.8,1275.5zM1289.3,1235.0L1320.5,1217.0L1320.5,1253.0zM1309.9,1202.3L1341.1,1184.3L1341.1,1220.3zM1347.3,1167.0L1378.5,1149.0L1378.5,1185.0zM1384.9,1093.4L1416.1,1075.4L1416.1,1111.4zM1423.0,980.9L1454.2,962.9L1454.2,998.9zM1460.1,795.8L1491.3,777.8L1491.3,813.8zM1497.2,564.2L1528.4,546.2L1528.4,582.2zM1534.6,407.2L1565.8,389.2L1565.8,425.2zM1573.0,344.4L1604.2,326.4L1604.2,362.4zM1609.6,319.8L1640.8,301.8L1640.8,337.8zM1647.7,306.0L1678.9,288.0L1678.9,324.0zM1684.8,300.4L1716.0,282.4L1716.0,318.4zM1722.7,294.8L1753.9,276.8L1753.9,312.8zM1820.1,287.1L1851.3,269.1L1851.3,305.1zM1969.8,279.4L2001.0,261.4L2001.0,297.4zM2117.7,276.9L2148.9,258.9L2148.9,294.9zM2265.2,274.3L2296.4,256.3L2296.4,292.3z" stroke="none"/>
</g>
</g>
<rect x="466.0" y="74.0" width="656.5" height="488.0" fill="#fff"/>
<clipPath id="ci"><rect x="466.0" y="74.0" width="662.5" height="488.0"/></clipPath>
<rect x="466.0" y="315.9" width="656.5" height="4.3" fill="#000"/>
<rect x="792.1" y="74.0" width="4.3" height="499.1" fill="#000"/>
<g clip-path="url(#ci)" shape-rendering="geometricPrecision">
<g stroke="#0000ff" fill="none">
<path d="M1122.5,122.8C1118.6,122.3 1101.7,119.3 1093.0,119.3C1084.2,119.3 1066.8,122.2 1056.8,122.8C1046.9,123.4 1028.5,123.2 1018.7,123.6C1008.8,124.0 992.9,125.3 983.0,125.7C973.1,126.1 952.4,126.1 944.4,126.7C936.4,127.4 928.3,129.5 923.1,130.6C917.9,131.7 910.9,133.6 905.4,134.7C900.0,135.9 887.7,138.3 882.0,139.2C876.2,140.1 867.5,140.4 862.4,141.5C857.2,142.6 848.4,145.9 843.3,147.4C838.2,148.9 829.2,151.0 824.3,152.7C819.3,154.3 810.4,156.9 806.1,159.9C801.8,162.9 796.1,170.5 792.0,175.1C787.9,179.7 780.0,184.7 775.4,194.2C770.7,203.8 762.2,228.6 757.2,246.9C752.2,265.3 742.7,305.4 737.9,331.9C733.0,358.3 725.8,424.3 720.9,445.5C716.0,466.7 706.4,483.5 701.3,490.9C696.1,498.4 687.6,499.1 682.2,501.1C676.9,503.1 667.2,505.1 661.3,506.2C655.5,507.3 646.9,508.2 638.3,509.3C629.8,510.4 608.2,514.0 597.3,514.6C586.4,515.1 567.2,513.3 556.3,513.2C545.3,513.1 527.3,514.0 515.2,514.2C503.2,514.3 472.6,514.2 466.0,514.2" stroke-width="4.5" stroke-linejoin="round"/>
<path d="M466.0,514.2C469.8,514.0 486.0,513.3 494.7,513.2C503.5,513.1 521.3,513.5 531.6,513.2C542.0,512.9 561.7,511.6 572.7,511.2C583.6,510.9 603.3,510.7 613.7,510.3C624.1,509.9 643.2,509.0 650.6,508.3C658.1,507.7 664.5,506.3 669.5,505.4C674.5,504.5 683.0,502.4 688.1,501.7C693.1,501.0 702.4,500.7 707.4,500.3C712.5,500.0 721.2,500.2 726.1,499.0C731.1,497.7 739.6,492.7 744.6,490.8C749.6,488.8 758.3,486.8 763.3,484.1C768.3,481.4 778.0,474.3 782.4,470.5C786.7,466.6 791.7,459.2 795.9,455.0C800.1,450.9 809.1,447.3 814.0,439.4C818.9,431.5 827.5,413.3 832.5,395.7C837.4,378.1 846.4,334.5 851.2,307.7C856.0,280.8 863.4,215.5 868.2,194.2C873.0,173.0 884.2,155.7 887.2,148.0C890.3,140.3 888.7,138.2 891.1,136.5C893.5,134.7 901.2,135.1 905.4,134.7C909.7,134.3 917.9,134.5 923.1,133.5C928.3,132.6 936.4,128.7 944.4,127.7C952.4,126.6 973.1,126.3 983.0,125.7C992.9,125.2 1008.8,124.0 1018.7,123.6C1028.5,123.2 1046.9,123.5 1056.8,122.8C1066.8,122.1 1084.2,118.8 1093.0,118.7C1101.7,118.6 1118.6,121.7 1122.5,122.2" stroke-width="4.5" stroke-linejoin="round"/>
<rect x="1088.6" y="114.9" width="8.8" height="8.8" fill="#fff" stroke-width="2.4"/>
<rect x="1014.3" y="119.2" width="8.8" height="8.8" fill="#fff" stroke-width="2.4"/>
<rect x="940.0" y="122.3" width="8.8" height="8.8" fill="#fff" stroke-width="2.4"/>
<rect x="901.0" y="130.3" width="8.8" height="8.8" fill="#fff" stroke-width="2.4"/>
<rect x="877.6" y="134.8" width="8.8" height="8.8" fill="#fff" stroke-width="2.4"/>
<rect x="858.0" y="137.1" width="8.8" height="8.8" fill="#fff" stroke-width="2.4"/>
<rect x="838.9" y="143.0" width="8.8" height="8.8" fill="#fff" stroke-width="2.4"/>
<rect x="819.9" y="148.3" width="8.8" height="8.8" fill="#fff" stroke-width="2.4"/>
<rect x="801.7" y="155.5" width="8.8" height="8.8" fill="#fff" stroke-width="2.4"/>
<rect x="787.6" y="170.7" width="8.8" height="8.8" fill="#fff" stroke-width="2.4"/>
<rect x="771.0" y="189.8" width="8.8" height="8.8" fill="#fff" stroke-width="2.4"/>
<rect x="752.8" y="242.5" width="8.8" height="8.8" fill="#fff" stroke-width="2.4"/>
<rect x="733.5" y="327.5" width="8.8" height="8.8" fill="#fff" stroke-width="2.4"/>
<rect x="716.5" y="441.1" width="8.8" height="8.8" fill="#fff" stroke-width="2.4"/>
<rect x="696.9" y="486.5" width="8.8" height="8.8" fill="#fff" stroke-width="2.4"/>
<rect x="677.8" y="496.7" width="8.8" height="8.8" fill="#fff" stroke-width="2.4"/>
<rect x="656.9" y="501.8" width="8.8" height="8.8" fill="#fff" stroke-width="2.4"/>
<rect x="592.9" y="510.2" width="8.8" height="8.8" fill="#fff" stroke-width="2.4"/>
<rect x="510.8" y="509.8" width="8.8" height="8.8" fill="#fff" stroke-width="2.4"/>
<rect x="490.3" y="508.8" width="8.8" height="8.8" fill="#fff" stroke-width="2.4"/>
<rect x="568.3" y="506.8" width="8.8" height="8.8" fill="#fff" stroke-width="2.4"/>
<rect x="646.2" y="503.9" width="8.8" height="8.8" fill="#fff" stroke-width="2.4"/>
<rect x="665.1" y="501.0" width="8.8" height="8.8" fill="#fff" stroke-width="2.4"/>
<rect x="683.7" y="497.3" width="8.8" height="8.8" fill="#fff" stroke-width="2.4"/>
<rect x="703.0" y="495.9" width="8.8" height="8.8" fill="#fff" stroke-width="2.4"/>
<rect x="721.7" y="494.6" width="8.8" height="8.8" fill="#fff" stroke-width="2.4"/>
<rect x="740.2" y="486.4" width="8.8" height="8.8" fill="#fff" stroke-width="2.4"/>
<rect x="758.9" y="479.7" width="8.8" height="8.8" fill="#fff" stroke-width="2.4"/>
<rect x="778.0" y="466.1" width="8.8" height="8.8" fill="#fff" stroke-width="2.4"/>
<rect x="791.5" y="450.6" width="8.8" height="8.8" fill="#fff" stroke-width="2.4"/>
<rect x="809.6" y="435.0" width="8.8" height="8.8" fill="#fff" stroke-width="2.4"/>
<rect x="828.1" y="391.3" width="8.8" height="8.8" fill="#fff" stroke-width="2.4"/>
<rect x="846.8" y="303.3" width="8.8" height="8.8" fill="#fff" stroke-width="2.4"/>
<rect x="863.8" y="189.8" width="8.8" height="8.8" fill="#fff" stroke-width="2.4"/>
<rect x="882.8" y="143.6" width="8.8" height="8.8" fill="#fff" stroke-width="2.4"/>
<rect x="886.7" y="132.1" width="8.8" height="8.8" fill="#fff" stroke-width="2.4"/>
<rect x="918.7" y="129.1" width="8.8" height="8.8" fill="#fff" stroke-width="2.4"/>
<rect x="978.6" y="121.3" width="8.8" height="8.8" fill="#fff" stroke-width="2.4"/>
<rect x="1052.4" y="118.4" width="8.8" height="8.8" fill="#fff" stroke-width="2.4"/>
</g>
<g stroke="#ff0000" fill="none">
<path d="M1114.3,127.3C1111.0,127.3 1096.2,127.4 1089.7,127.5C1083.1,127.5 1071.6,127.7 1065.1,127.7C1058.5,127.7 1047.0,127.7 1040.4,127.7C1033.9,127.7 1022.4,127.8 1015.8,127.9C1009.3,128.0 997.8,128.2 991.2,128.3C984.6,128.3 973.1,128.2 966.6,128.3C960.0,128.4 948.5,128.9 942.0,129.0C935.4,129.2 923.9,129.0 917.3,129.0C910.8,129.1 899.3,129.0 892.7,129.6C886.2,130.2 874.7,131.5 868.1,133.5C861.5,135.6 850.1,141.7 843.5,145.2C836.9,148.8 825.4,155.0 818.9,160.5C812.3,165.9 800.8,176.6 794.2,186.2C787.7,195.9 776.2,214.5 769.6,233.1C763.1,251.7 751.6,298.8 745.0,326.0C738.4,353.2 727.0,417.5 720.4,437.3C713.8,457.1 702.3,466.8 695.8,474.6C689.2,482.3 677.7,491.4 671.2,495.0C664.6,498.7 653.1,500.5 646.5,501.9C640.0,503.3 628.5,504.6 621.9,505.4C615.4,506.2 603.9,507.2 597.3,507.7C590.7,508.3 579.2,509.2 572.7,509.7C566.1,510.2 554.6,510.9 548.1,511.2C541.5,511.6 530.0,512.1 523.4,512.4C516.9,512.8 505.4,513.8 498.8,514.0C492.3,514.2 477.5,514.0 474.2,514.0" stroke-width="4.5" stroke-linejoin="round"/>
<path d="M474.2,514.0C477.5,514.0 492.3,514.4 498.8,514.4C505.4,514.4 516.9,514.1 523.4,514.0C530.0,513.9 541.5,513.7 548.1,513.6C554.6,513.5 566.1,513.3 572.7,513.2C579.2,513.1 590.7,512.8 597.3,512.6C603.9,512.5 615.4,512.2 621.9,512.0C628.5,511.9 640.0,511.5 646.5,511.4C653.1,511.3 664.6,511.4 671.2,511.2C677.7,511.1 689.2,510.8 695.8,510.1C702.3,509.3 713.8,507.6 720.4,505.6C727.0,503.6 738.4,498.4 745.0,495.0C751.6,491.7 763.1,485.9 769.6,480.4C776.2,474.9 787.7,465.2 794.2,454.1C800.8,442.9 812.3,415.4 818.9,396.9C825.4,378.4 836.9,341.1 843.5,315.3C850.1,289.4 861.5,222.9 868.1,203.0C874.7,183.2 886.2,174.0 892.7,166.3C899.3,158.6 910.8,148.9 917.3,145.2C923.9,141.6 935.4,140.3 942.0,138.6C948.5,136.9 960.0,133.7 966.6,132.8C973.1,131.8 984.6,131.6 991.2,131.2C997.8,130.8 1009.3,130.3 1015.8,130.0C1022.4,129.8 1033.9,129.4 1040.4,129.2C1047.0,129.1 1058.5,128.8 1065.1,128.7C1071.6,128.5 1083.1,128.1 1089.7,127.9C1096.2,127.7 1111.0,127.4 1114.3,127.3" stroke-width="4.5" stroke-linejoin="round"/>
<circle cx="1114.3" cy="127.3" r="4.7" fill="#fff" stroke-width="2.7"/>
<circle cx="1089.7" cy="127.5" r="4.7" fill="#fff" stroke-width="2.7"/>
<circle cx="1065.1" cy="127.7" r="4.7" fill="#fff" stroke-width="2.7"/>
<circle cx="1040.4" cy="127.7" r="4.7" fill="#fff" stroke-width="2.7"/>
<circle cx="1015.8" cy="127.9" r="4.7" fill="#fff" stroke-width="2.7"/>
<circle cx="991.2" cy="128.3" r="4.7" fill="#fff" stroke-width="2.7"/>
<circle cx="966.6" cy="128.3" r="4.7" fill="#fff" stroke-width="2.7"/>
<circle cx="942.0" cy="129.0" r="4.7" fill="#fff" stroke-width="2.7"/>
<circle cx="917.3" cy="129.0" r="4.7" fill="#fff" stroke-width="2.7"/>
<circle cx="892.7" cy="129.6" r="4.7" fill="#fff" stroke-width="2.7"/>
<circle cx="868.1" cy="133.5" r="4.7" fill="#fff" stroke-width="2.7"/>
<circle cx="843.5" cy="145.2" r="4.7" fill="#fff" stroke-width="2.7"/>
<circle cx="818.9" cy="160.5" r="4.7" fill="#fff" stroke-width="2.7"/>
<circle cx="794.2" cy="186.2" r="4.7" fill="#fff" stroke-width="2.7"/>
<circle cx="769.6" cy="233.1" r="4.7" fill="#fff" stroke-width="2.7"/>
<circle cx="745.0" cy="326.0" r="4.7" fill="#fff" stroke-width="2.7"/>
<circle cx="720.4" cy="437.3" r="4.7" fill="#fff" stroke-width="2.7"/>
<circle cx="695.8" cy="474.6" r="4.7" fill="#fff" stroke-width="2.7"/>
<circle cx="671.2" cy="495.0" r="4.7" fill="#fff" stroke-width="2.7"/>
<circle cx="646.5" cy="501.9" r="4.7" fill="#fff" stroke-width="2.7"/>
<circle cx="621.9" cy="505.4" r="4.7" fill="#fff" stroke-width="2.7"/>
<circle cx="597.3" cy="507.7" r="4.7" fill="#fff" stroke-width="2.7"/>
<circle cx="572.7" cy="509.7" r="4.7" fill="#fff" stroke-width="2.7"/>
<circle cx="548.1" cy="511.2" r="4.7" fill="#fff" stroke-width="2.7"/>
<circle cx="523.4" cy="512.4" r="4.7" fill="#fff" stroke-width="2.7"/>
<circle cx="498.8" cy="514.0" r="4.7" fill="#fff" stroke-width="2.7"/>
<circle cx="474.2" cy="514.0" r="4.7" fill="#fff" stroke-width="2.7"/>
<circle cx="474.2" cy="514.0" r="4.7" fill="#fff" stroke-width="2.7"/>
<circle cx="498.8" cy="514.4" r="4.7" fill="#fff" stroke-width="2.7"/>
<circle cx="523.4" cy="514.0" r="4.7" fill="#fff" stroke-width="2.7"/>
<circle cx="548.1" cy="513.6" r="4.7" fill="#fff" stroke-width="2.7"/>
<circle cx="572.7" cy="513.2" r="4.7" fill="#fff" stroke-width="2.7"/>
<circle cx="597.3" cy="512.6" r="4.7" fill="#fff" stroke-width="2.7"/>
<circle cx="621.9" cy="512.0" r="4.7" fill="#fff" stroke-width="2.7"/>
<circle cx="646.5" cy="511.4" r="4.7" fill="#fff" stroke-width="2.7"/>
<circle cx="671.2" cy="511.2" r="4.7" fill="#fff" stroke-width="2.7"/>
<circle cx="695.8" cy="510.1" r="4.7" fill="#fff" stroke-width="2.7"/>
<circle cx="720.4" cy="505.6" r="4.7" fill="#fff" stroke-width="2.7"/>
<circle cx="745.0" cy="495.0" r="4.7" fill="#fff" stroke-width="2.7"/>
<circle cx="769.6" cy="480.4" r="4.7" fill="#fff" stroke-width="2.7"/>
<circle cx="794.2" cy="454.1" r="4.7" fill="#fff" stroke-width="2.7"/>
<circle cx="818.9" cy="396.9" r="4.7" fill="#fff" stroke-width="2.7"/>
<circle cx="843.5" cy="315.3" r="4.7" fill="#fff" stroke-width="2.7"/>
<circle cx="868.1" cy="203.0" r="4.7" fill="#fff" stroke-width="2.7"/>
<circle cx="892.7" cy="166.3" r="4.7" fill="#fff" stroke-width="2.7"/>
<circle cx="917.3" cy="145.2" r="4.7" fill="#fff" stroke-width="2.7"/>
<circle cx="942.0" cy="138.6" r="4.7" fill="#fff" stroke-width="2.7"/>
<circle cx="966.6" cy="132.8" r="4.7" fill="#fff" stroke-width="2.7"/>
<circle cx="991.2" cy="131.2" r="4.7" fill="#fff" stroke-width="2.7"/>
<circle cx="1015.8" cy="130.0" r="4.7" fill="#fff" stroke-width="2.7"/>
<circle cx="1040.4" cy="129.2" r="4.7" fill="#fff" stroke-width="2.7"/>
<circle cx="1065.1" cy="128.7" r="4.7" fill="#fff" stroke-width="2.7"/>
<circle cx="1089.7" cy="127.9" r="4.7" fill="#fff" stroke-width="2.7"/>
<circle cx="1114.3" cy="127.3" r="4.7" fill="#fff" stroke-width="2.7"/>
</g>
</g>
<g fill="#000">
<rect x="463.9" y="71.8" width="660.8" height="4.3"/>
<rect x="463.9" y="559.9" width="660.8" height="4.3"/>
<rect x="463.9" y="71.8" width="4.3" height="501.3"/>
<rect x="1120.3" y="71.8" width="4.3" height="501.3"/>
<rect x="454.9" y="120.7" width="9" height="4.3"/>
<rect x="454.9" y="218.3" width="9" height="4.3"/>
<rect x="454.9" y="315.9" width="9" height="4.3"/>
<rect x="454.9" y="413.5" width="9" height="4.3"/>
<rect x="454.9" y="511.1" width="9" height="4.3"/>
<rect x="459.4" y="169.5" width="4.5" height="4.3"/>
<rect x="459.4" y="267.1" width="4.5" height="4.3"/>
<rect x="459.4" y="364.7" width="4.5" height="4.3"/>
<rect x="459.4" y="462.2" width="4.5" height="4.3"/>
<rect x="628.0" y="564.1" width="4.3" height="9"/>
<rect x="956.2" y="564.1" width="4.3" height="9"/>
<rect x="545.9" y="564.1" width="4.3" height="4.5"/>
<rect x="710.0" y="564.1" width="4.3" height="4.5"/>
<rect x="874.2" y="564.1" width="4.3" height="4.5"/>
<rect x="1038.3" y="564.1" width="4.3" height="4.5"/>
</g>
<g class="san" font-size="29.5" fill="#000" shape-rendering="geometricPrecision">
<text x="450.5" y="131.8" text-anchor="end">1.0</text>
<text x="450.5" y="229.4" text-anchor="end">0.5</text>
<text x="450.5" y="327.0" text-anchor="end">0.0</text>
<text x="449.5" y="426.4" text-anchor="end">−0.5</text>
<text x="449.5" y="524.0" text-anchor="end">−1.0</text>
<text x="465.0" y="602.4" text-anchor="middle">−4000</text>
<text x="629.1" y="602.4" text-anchor="middle">−2000</text>
<text x="795.0" y="602.4" text-anchor="middle">0</text>
<text x="959.2" y="602.4" text-anchor="middle">2000</text>
<text x="1123.3" y="602.4" text-anchor="middle">4000</text>
</g>
<g class="san" fill="#000" shape-rendering="geometricPrecision">
<text x="794.8" y="659" font-size="37.3" text-anchor="middle" textLength="318.5" lengthAdjust="spacingAndGlyphs">Magnetic Field, Oe</text>
<text transform="translate(358.2,324.3) rotate(-90)" font-size="37.5" text-anchor="middle" textLength="505" lengthAdjust="spacingAndGlyphs">Normalized saturation, rel. un.</text>
<rect x="497.9" y="114.1" width="216" height="89.6" fill="#fff" stroke="#000" stroke-width="1.5"/>
<text x="598.3" y="150" font-size="38">MOKE</text>
<text x="599.3" y="197.4" font-size="38">VSM</text>
<line x1="502" y1="136.3" x2="590.4" y2="136.3" stroke="#00f" stroke-width="4.4"/>
<rect x="541.4" y="132.0" width="8.6" height="8.6" fill="#fff" stroke="#00f" stroke-width="2.4"/>
<line x1="502" y1="182.8" x2="590.4" y2="182.8" stroke="#f00" stroke-width="4.4"/>
<circle cx="546" cy="182.8" r="4.8" fill="#fff" stroke="#f00" stroke-width="2.8"/>
</g>
<g fill="#000">
<rect x="288.4" y="55.3" width="2025.3" height="10.6"/>
<rect x="288.4" y="1589.1" width="2025.3" height="10.6"/>
<rect x="310.4" y="55.3" width="10.6" height="1566.4"/>
<rect x="2303.1" y="55.3" width="10.6" height="1566.4"/>
<rect x="288.4" y="822.2" width="2020.0" height="10.6"/>
<rect x="1306.8" y="60.6" width="10.6" height="1561.1"/>
<rect x="288.4" y="310.9" width="22" height="10.6"/>
<rect x="288.4" y="566.6" width="22" height="10.6"/>
<rect x="288.4" y="1077.8" width="22" height="10.6"/>
<rect x="288.4" y="1333.5" width="22" height="10.6"/>
<rect x="302.1" y="183.1" width="8.3" height="10.6"/>
<rect x="302.1" y="438.7" width="8.3" height="10.6"/>
<rect x="302.1" y="694.4" width="8.3" height="10.6"/>
<rect x="302.1" y="950.0" width="8.3" height="10.6"/>
<rect x="302.1" y="1205.7" width="8.3" height="10.6"/>
<rect x="302.1" y="1461.3" width="8.3" height="10.6"/>
<rect x="559.5" y="1599.7" width="10.6" height="22"/>
<rect x="808.6" y="1599.7" width="10.6" height="22"/>
<rect x="1057.7" y="1599.7" width="10.6" height="22"/>
<rect x="1555.8" y="1599.7" width="10.6" height="22"/>
<rect x="1804.9" y="1599.7" width="10.6" height="22"/>
<rect x="2054.0" y="1599.7" width="10.6" height="22"/>
<rect x="434.9" y="1599.7" width="10.6" height="8.3"/>
<rect x="684.0" y="1599.7" width="10.6" height="8.3"/>
<rect x="933.1" y="1599.7" width="10.6" height="8.3"/>
<rect x="1182.2" y="1599.7" width="10.6" height="8.3"/>
<rect x="1431.3" y="1599.7" width="10.6" height="8.3"/>
<rect x="1680.4" y="1599.7" width="10.6" height="8.3"/>
<rect x="1929.5" y="1599.7" width="10.6" height="8.3"/>
<rect x="2178.6" y="1599.7" width="10.6" height="8.3"/>
</g>
<g class="ser" font-size="83" fill="#000" shape-rendering="geometricPrecision">
<text x="271" y="78.4" text-anchor="end" textLength="100.5" lengthAdjust="spacingAndGlyphs">1.5</text>
<text x="271" y="334.8" text-anchor="end" textLength="100.5" lengthAdjust="spacingAndGlyphs">1.0</text>
<text x="271" y="591.9" text-anchor="end" textLength="100.5" lengthAdjust="spacingAndGlyphs">0.5</text>
<text x="271" y="847.5" text-anchor="end" textLength="100.5" lengthAdjust="spacingAndGlyphs">0.0</text>
<text x="271" y="1104.1" text-anchor="end" textLength="140.5" lengthAdjust="spacingAndGlyphs">−0.5</text>
<text x="271" y="1359.1" text-anchor="end" textLength="140.5" lengthAdjust="spacingAndGlyphs">−1.0</text>
<text x="271" y="1614.7" text-anchor="end" textLength="140.5" lengthAdjust="spacingAndGlyphs">−1.5</text>
<text x="315.7" y="1700.8" text-anchor="middle" textLength="199.5" lengthAdjust="spacingAndGlyphs">−4000</text>
<text x="564.8" y="1700.8" text-anchor="middle" textLength="199.5" lengthAdjust="spacingAndGlyphs">−3000</text>
<text x="813.9" y="1700.8" text-anchor="middle" textLength="199.5" lengthAdjust="spacingAndGlyphs">−2000</text>
<text x="1063.0" y="1700.8" text-anchor="middle" textLength="199.5" lengthAdjust="spacingAndGlyphs">−1000</text>
<text x="1315.0" y="1700.8" text-anchor="middle" textLength="40.5" lengthAdjust="spacingAndGlyphs">0</text>
<text x="1564.1" y="1700.8" text-anchor="middle" textLength="158" lengthAdjust="spacingAndGlyphs">1000</text>
<text x="1813.2" y="1700.8" text-anchor="middle" textLength="158" lengthAdjust="spacingAndGlyphs">2000</text>
<text x="2062.3" y="1700.8" text-anchor="middle" textLength="158" lengthAdjust="spacingAndGlyphs">3000</text>
<text x="2311.4" y="1700.8" text-anchor="middle" textLength="158" lengthAdjust="spacingAndGlyphs">4000</text>
</g>
<g class="ser" font-weight="bold" fill="#000" shape-rendering="geometricPrecision">
<text x="1314.5" y="1847.2" font-size="95" text-anchor="middle" textLength="789" lengthAdjust="spacingAndGlyphs">Magnetic Field, Oe</text>
<g transform="translate(77.4,0) rotate(-90)" font-size="92">
<text x="-1016.8" y="0.6" font-size="98" textLength="72" lengthAdjust="spacingAndGlyphs">Θ</text>
<text x="-947.8" y="23.6" font-size="62" font-weight="normal">K</text>
<text x="-903.5" y="1" font-size="96">,</text>
<text x="-856.5" y="0" textLength="213.5" lengthAdjust="spacingAndGlyphs">mrad</text>
</g>
</g>
</svg></body></html>
